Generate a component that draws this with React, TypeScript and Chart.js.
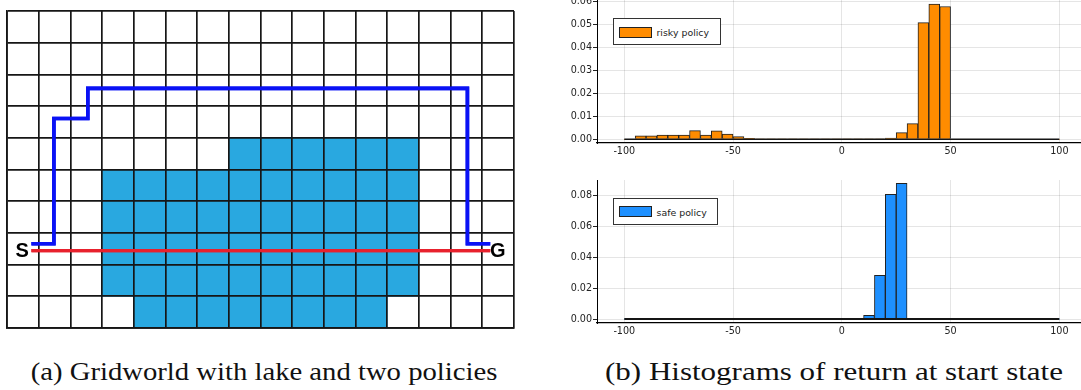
import React, { useEffect, useRef } from 'react';
import { Chart, registerables } from 'chart.js';

Chart.register(...registerables);

// ---------- Histogram data ----------
const binStarts = [
  -100, -95, -90, -85, -80, -75, -70, -65, -60, -55,
  -50, -45, -40, -35, -30, -25, -20, -15, -10, -5,
  0, 5, 10, 15, 20, 25, 30, 35, 40, 45,
  50, 55, 60, 65, 70, 75, 80, 85, 90, 95,
];
const binWidth = 5;
const riskyDensity = [
  0, 0.0015, 0.0015, 0.0018, 0.0018, 0.0018, 0.0038, 0.0018, 0.0037, 0.0023,
  0.0012, 0.0004, 0.0002, 0.0001, 0.0001, 0.0001, 0.0001, 0.0001, 0.0001, 0.0001,
  0.0001, 0.0001, 0.0001, 0.0001, 0.0005, 0.0029, 0.0068, 0.0507, 0.0588, 0.0577,
  0, 0, 0, 0, 0, 0, 0, 0, 0, 0,
];
const safeDensity = [
  0, 0, 0, 0, 0, 0, 0, 0, 0, 0,
  0, 0, 0, 0, 0, 0, 0, 0, 0, 0,
  0, 0.0002, 0.0024, 0.0284, 0.0811, 0.0883, 0, 0, 0, 0,
  0, 0, 0, 0, 0, 0, 0, 0, 0, 0,
];
const returnTicks = [-100, -50, 0, 50, 100];
const riskyYTicks = [0, 0.01, 0.02, 0.03, 0.04, 0.05, 0.06];
const safeYTicks = [0, 0.02, 0.04, 0.06, 0.08];
const riskyLabel = 'risky policy';
const safeLabel = 'safe policy';

// ---------- Gridworld data ----------
const gridColumns = 16;
const gridRows = 10;
const lakeColumns = [3, 4, 5, 6, 7, 8, 9, 10, 11, 12];
const lakeBottoms = [1, 0, 0, 0, 0, 0, 0, 0, 0, 1];
const lakeTops = [5, 5, 5, 5, 6, 6, 6, 6, 6, 6];
const safePathX = [0.77, 1.48, 1.48, 2.55, 2.55, 14.53, 14.53, 15.25];
const safePathY = [2.66, 2.66, 6.61, 6.61, 7.56, 7.56, 2.66, 2.66];
const riskyPathX = [0.77, 15.25];
const riskyPathY = [2.44, 2.44];

const ORANGE = '#ff8c00';
const DODGER = '#1e90ff';
const LAKE = '#29a8e0';
const PATH_BLUE = '#0a12f5';
const PATH_RED = '#e8212d';

const tickFont = { family: 'DejaVu Sans', size: 9.6 };

function makeHistogram(
  canvas: HTMLCanvasElement,
  values: number[],
  color: string,
  yMin: number,
  yMax: number,
  yTicks: number[],
  baseWidth: number
) {
  return new Chart(canvas, {
    type: 'bar',
    data: {
      datasets: [
        {
          type: 'line',
          data: [
            { x: binStarts[0], y: 0 },
            { x: binStarts[binStarts.length - 1] + binWidth, y: 0 },
          ],
          borderColor: '#151515',
          borderWidth: baseWidth,
          pointRadius: 0,
          fill: false,
          order: 0,
        } as any,
        {
          type: 'bar',
          data: binStarts.map((s, i) => ({ x: s + binWidth / 2, y: values[i] })),
          backgroundColor: color,
          borderColor: '#222',
          borderWidth: (ctx: any) => (ctx.raw && ctx.raw.y > 0 ? 1 : 0),
          barPercentage: 1,
          categoryPercentage: 1,
          order: 1,
        } as any,
      ],
    },
    options: {
      responsive: false,
      animation: false,
      devicePixelRatio: 1,
      layout: { padding: { top: 10, left: 0, right: 0, bottom: 0 } },
      plugins: { legend: { display: false }, tooltip: { enabled: false } },
      scales: {
        x: {
          type: 'linear',
          min: -112.55,
          max: 114.1,
          offset: false,
          afterBuildTicks: (s: any) => {
            s.ticks = returnTicks.map((v) => ({ value: v }));
          },
          afterFit: (s: any) => {
            s.height = 20;
          },
          grid: { color: 'rgba(0,0,0,0.1)', lineWidth: 1, offset: false, drawTicks: false },
          border: { color: '#000', width: 1.2 },
          ticks: {
            padding: 2.5,
            color: '#222',
            font: tickFont,
            maxRotation: 0,
            autoSkip: false,
            callback: (v: any) => String(v),
          },
        },
        y: {
          type: 'linear',
          min: yMin,
          max: yMax,
          afterBuildTicks: (s: any) => {
            s.ticks = yTicks.map((v) => ({ value: v }));
          },
          afterFit: (s: any) => {
            s.width = 42;
          },
          grid: { color: 'rgba(0,0,0,0.1)', lineWidth: 1, tickColor: '#222', tickLength: 4 },
          border: { color: '#000', width: 1 },
          ticks: {
            padding: 1,
            color: '#222',
            font: tickFont,
            callback: (v: any) => Number(v).toFixed(2),
          },
        },
      },
    } as any,
  });
}

const linesOnTop = {
  id: 'linesOnTop',
  afterDraw(chart: any) {
    chart.data.datasets.forEach((ds: any, i: number) => {
      if (ds.type === 'line') {
        const meta = chart.getDatasetMeta(i);
        meta.controller.draw();
      }
    });
  },
};

function makeGridworld(canvas: HTMLCanvasElement) {
  const gridColor = '#161616';
  const axisBase = (max: number) => ({
    type: 'linear',
    min: 0,
    max,
    offset: false,
    afterBuildTicks: (s: any) => {
      s.ticks = Array.from({ length: max + 1 }, (_, k) => ({ value: k }));
    },
    grid: { color: gridColor, lineWidth: 1.7, drawTicks: false, offset: false, z: 1 },
    border: { color: gridColor, width: 1.7, z: 1 },
    ticks: { display: false },
  });
  return new Chart(canvas, {
    type: 'bar',
    data: {
      datasets: [
        {
          type: 'bar',
          data: lakeColumns.map((c, i) => ({ x: c + 0.5, y: [lakeBottoms[i], lakeTops[i]] })),
          backgroundColor: LAKE,
          borderWidth: 0,
          barPercentage: 1,
          categoryPercentage: 1,
          order: 2,
        } as any,
        {
          type: 'line',
          data: safePathX.map((x, i) => ({ x, y: safePathY[i] })),
          borderColor: PATH_BLUE,
          borderWidth: 3.6,
          pointRadius: 0,
          fill: false,
          tension: 0,
          borderJoinStyle: 'miter',
          order: 1,
        } as any,
        {
          type: 'line',
          data: riskyPathX.map((x, i) => ({ x, y: riskyPathY[i] })),
          borderColor: PATH_RED,
          borderWidth: 3.2,
          pointRadius: 0,
          fill: false,
          tension: 0,
          order: 0,
        } as any,
      ],
    },
    options: {
      responsive: false,
      animation: false,
      devicePixelRatio: 1,
      layout: { padding: { top: 5, left: 5, right: 5, bottom: 5 } },
      plugins: { legend: { display: false }, tooltip: { enabled: false } },
      scales: {
        x: axisBase(gridColumns),
        y: axisBase(gridRows),
      },
    } as any,
    plugins: [linesOnTop],
  });
}

function Legend(props: { left: number; top: number; width: number; color: string; label: string }) {
  return (
    <div
      style={{
        position: 'absolute',
        left: props.left,
        top: props.top,
        width: props.width,
        height: 27,
        boxSizing: 'border-box',
        border: '1px solid #333',
        background: '#fff',
        zIndex: 2,
      }}
    >
      <div
        style={{
          position: 'absolute',
          left: 5,
          top: 7.3,
          width: 32.5,
          height: 11,
          boxSizing: 'border-box',
          border: '1px solid #222',
          background: props.color,
        }}
      />
      <span
        style={{
          position: 'absolute',
          left: 42.5,
          top: 8.5,
          fontFamily: 'DejaVu Sans',
          fontSize: 9.4,
          lineHeight: 1,
          color: '#222',
          whiteSpace: 'nowrap',
        }}
      >
        {props.label}
      </span>
    </div>
  );
}

export default function App() {
  const gridRef = useRef<HTMLCanvasElement>(null);
  const topRef = useRef<HTMLCanvasElement>(null);
  const botRef = useRef<HTMLCanvasElement>(null);

  useEffect(() => {
    const charts: Chart[] = [];
    if (gridRef.current) charts.push(makeGridworld(gridRef.current));
    if (topRef.current)
      charts.push(makeHistogram(topRef.current, riskyDensity, ORANGE, -0.0016, 0.0614, riskyYTicks, 1.5));
    if (botRef.current)
      charts.push(makeHistogram(botRef.current, safeDensity, DODGER, -0.0026, 0.0904, safeYTicks, 2));
    return () => charts.forEach((c) => c.destroy());
  }, []);

  const captionStyle: React.CSSProperties = {
    position: 'absolute',
    top: 359,
    fontFamily: '"Liberation Serif", "Times New Roman", Times, serif',
    fontSize: 25,
    lineHeight: '25px',
    color: '#111',
    whiteSpace: 'nowrap',
    textAlign: 'center',
    width: 600,
    transformOrigin: 'center',
  };
  const sgStyle: React.CSSProperties = {
    position: 'absolute',
    top: 239.5,
    fontFamily: '"Liberation Sans", Arial, sans-serif',
    fontWeight: 'bold',
    fontSize: 20,
    lineHeight: '20px',
    color: '#000',
    zIndex: 2,
  };

  return (
    <div
      style={{
        position: 'absolute',
        left: 0,
        top: 0,
        width: 1081,
        height: 390,
        overflow: 'hidden',
        background: '#fff',
      }}
    >
      <canvas
        ref={gridRef}
        width={517}
        height={327}
        style={{ position: 'absolute', left: 2, top: 6, width: 517, height: 327 }}
      />
      <canvas
        ref={topRef}
        width={535}
        height={175}
        style={{ position: 'absolute', left: 555, top: -12, width: 535, height: 175 }}
      />
      <canvas
        ref={botRef}
        width={535}
        height={173}
        style={{ position: 'absolute', left: 555, top: 170, width: 535, height: 173 }}
      />
      <span style={{ ...sgStyle, left: 15.5 }}>S</span>
      <span style={{ ...sgStyle, left: 490 }}>G</span>
      <Legend left={613} top={18.3} width={108} color={ORANGE} label={riskyLabel} />
      <Legend left={613} top={198} width={105} color={DODGER} label={safeLabel} />
      <div style={{ ...captionStyle, left: 263.5 - 300, transform: 'scaleX(1.147)' }}>
        (a) Gridworld with lake and two policies
      </div>
      <div style={{ ...captionStyle, left: 834 - 300, transform: 'scaleX(1.24)' }}>
        (b) Histograms of return at start state
      </div>
    </div>
  );
}
